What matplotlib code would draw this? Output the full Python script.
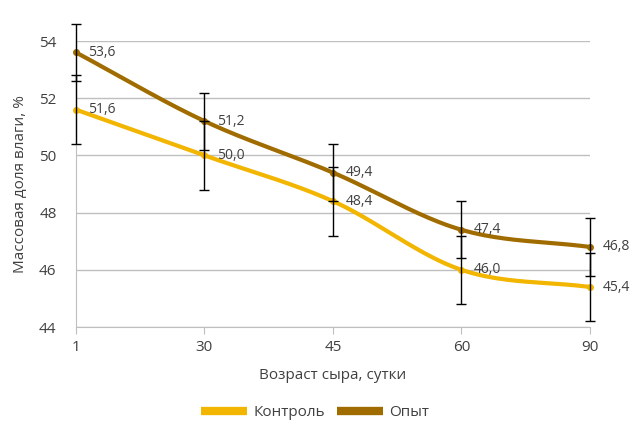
import numpy as np
import matplotlib.pyplot as plt
from matplotlib.lines import Line2D

plt.rcParams['font.family'] = ['Open Sans', 'DejaVu Sans']

days = ['1', '30', '45', '60', '90']
control = [51.6, 50.0, 48.4, 46.0, 45.4]
trial = [53.6, 51.2, 49.4, 47.4, 46.8]
control_err = [1.2, 1.2, 1.2, 1.2, 1.2]
trial_err = [1.0, 1.0, 1.0, 1.0, 1.0]

c_control = '#F2B500'
c_trial = '#A06C00'


def smooth(x, y, n=40):
    # сглаживание Catmull-Rom, как у сглаженных линий в Excel
    x = np.asarray(x, float)
    y = np.asarray(y, float)
    px = np.concatenate([[2 * x[0] - x[1]], x, [2 * x[-1] - x[-2]]])
    py = np.concatenate([[2 * y[0] - y[1]], y, [2 * y[-1] - y[-2]]])
    xs, ys = [], []
    t = np.linspace(0, 1, n)
    for i in range(1, len(px) - 2):
        p0, p1, p2, p3 = [np.array([px[j], py[j]]) for j in range(i - 1, i + 3)]
        b1 = p1 + (p2 - p0) / 6
        b2 = p2 - (p3 - p1) / 6
        pts = ((1 - t) ** 3)[:, None] * p1 + (3 * (1 - t) ** 2 * t)[:, None] * b1 \
            + (3 * (1 - t) * t ** 2)[:, None] * b2 + (t ** 3)[:, None] * p2
        xs.extend(pts[:, 0])
        ys.extend(pts[:, 1])
    return np.array(xs), np.array(ys)


fig = plt.figure(figsize=(6.3, 4.22), dpi=100)
ax = fig.add_axes([0.1206, 0.225, 0.8159, 0.6778])

x = np.arange(len(days))

for vals, col in [(control, c_control), (trial, c_trial)]:
    sx, sy = smooth(x, vals)
    ax.plot(sx, sy, color=col, lw=3, solid_capstyle='round', zorder=3, clip_on=False)
    ax.plot(x, vals, 'o', color=col, ms=4, zorder=4, clip_on=False)

for vals, err in [(control, control_err), (trial, trial_err)]:
    ax.errorbar(x, vals, yerr=err, fmt='none', ecolor='black', elinewidth=1,
                capsize=3.5, capthick=1, zorder=5, clip_on=False)

for vals in (control, trial):
    for xi, v in zip(x, vals):
        ax.annotate(f'{v:.1f}'.replace('.', ','), (xi, v), xytext=(9, 0),
                    textcoords='offset points', va='center', ha='left',
                    fontsize=10, color='#404040', zorder=6)

ax.set_xlim(0, len(days) - 1)
ax.set_ylim(44, 54)
ax.set_yticks(np.arange(44, 55, 2))
ax.set_xticks(x)
ax.set_xticklabels(days)
ax.grid(axis='y', color='#BFBFBF', lw=1)
ax.set_axisbelow(True)

for s in ('top', 'right'):
    ax.spines[s].set_visible(False)
ax.spines['left'].set_color('#BFBFBF')
ax.spines['bottom'].set_color('#BFBFBF')
ax.tick_params(axis='y', length=0, labelsize=11, colors='#404040', pad=14)
ax.tick_params(axis='x', length=5, color='#BFBFBF', labelsize=11, labelcolor='#404040', pad=4)

ax.set_xlabel('Возраст сыра, сутки', fontsize=11, color='#404040', labelpad=10)
ax.set_ylabel('Массовая доля влаги, %', fontsize=11, color='#404040', labelpad=8)

handles = [Line2D([], [], color=c_control, lw=6, solid_capstyle='butt'),
           Line2D([], [], color=c_trial, lw=6, solid_capstyle='butt')]
fig.legend(handles, ['Контроль', 'Опыт'], loc='center', bbox_to_anchor=(0.5, 0.022),
           ncol=2, frameon=False, fontsize=11, handlelength=3.0, handletextpad=0.4,
           columnspacing=0.8, labelcolor='#404040')

fig.savefig('out.png', dpi=100)
